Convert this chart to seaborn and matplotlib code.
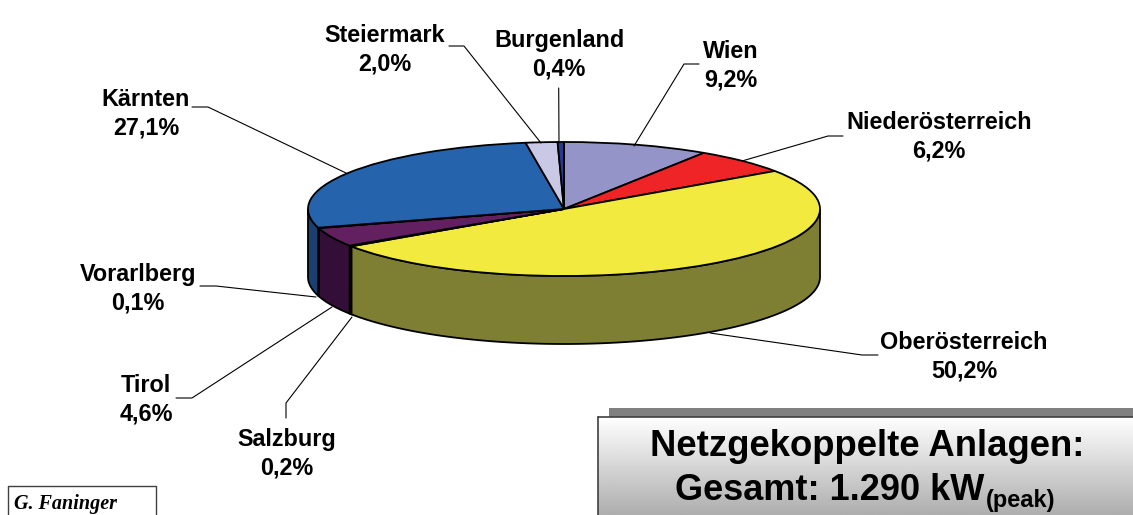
import numpy as np
import matplotlib.pyplot as plt
import seaborn as sns

laender = ['Wien', 'Niederösterreich', 'Oberösterreich', 'Salzburg', 'Tirol',
           'Vorarlberg', 'Kärnten', 'Steiermark', 'Burgenland']
anteile = [9.2, 6.2, 50.2, 0.2, 4.6, 0.1, 27.1, 2.0, 0.4]
farben_oben = ['#9494C8', '#EE2427', '#F2EA3E', '#5F8F8F', '#622060',
               '#3A2060', '#2563AD', '#C9C9E5', '#2A3990']
farben_wand = ['#4A4A64', '#771214', '#7F7F33', '#2F4848', '#330F38',
               '#1D1030', '#1B3F70', '#646472', '#151C48']

# label centre in pixels
label_x = [731, 939, 964, 287, 146, 138, 146, 385, 559]
label_y = [66, 137, 357, 454, 400, 289, 114, 50, 55]

# leader lines in pixels
leader = [
    [(699, 64), (684, 64), (634, 146)],
    [(843, 136), (828, 136), (742, 161)],
    [(878, 355), (862, 355), (710, 333)],
    [(286, 418), (286, 403), (352, 317)],
    [(176, 398), (192, 398), (332, 307)],
    [(200, 286), (216, 286), (316, 297)],
    [(192, 107), (208, 107), (346, 173)],
    [(449, 46), (464, 46), (541, 143)],
    [(558.7, 88), (559, 143)],
]

W, H = 1133, 515
cx, cy, rx, ry = 564, 209, 256, 67
tiefe = 68 / ry

sns.set_theme(style='white')
plt.rcParams['font.family'] = ['Liberation Sans', 'DejaVu Sans']
plt.rcParams['text.color'] = 'black'

fig = plt.figure(figsize=(W / 100, H / 100), dpi=100)
ax = fig.add_axes([0, 0, 1, 1])

# side wall, only the front half of the disc is visible
start = 0
for wert, farbe in zip(anteile, farben_wand):
    ende = start + wert * 3.6
    a, b = max(start, 90), min(ende, 270)
    if b > a:
        t = np.radians(np.linspace(a, b, 80))
        xs = np.sin(t)
        ys = np.cos(t)
        ax.fill(np.r_[xs, xs[::-1]], np.r_[ys, ys[::-1] - tiefe],
                facecolor=farbe, edgecolor='black', linewidth=1.3)
    start = ende

ax.pie(anteile, colors=sns.color_palette(farben_oben), startangle=90, counterclock=False,
       radius=1, center=(0, 0), wedgeprops=dict(edgecolor='black', linewidth=1.3))
ax.set_aspect('auto')
ax.set_xlim(-cx / rx, (W - cx) / rx)
ax.set_ylim(-(H - cy) / ry, cy / ry)
ax.axis('off')

over = fig.add_axes([0, 0, 1, 1])
over.set_xlim(0, W)
over.set_ylim(H, 0)
over.axis('off')

for name, wert, x, y, linie in zip(laender, anteile, label_x, label_y, leader):
    over.plot(*zip(*linie), color='black', lw=0.8)
    txt = name + '\n' + f'{wert:.1f}'.replace('.', ',') + '%'
    over.text(x, y, txt, ha='center', va='center', fontsize=16.8, fontweight='bold',
              linespacing=1.3)

# summary box
over.fill_between([609, W], 408, 417, color='#808080', lw=0)
grad = np.linspace(1, 0.68, 100).reshape(-1, 1)
over.imshow(grad, extent=(598, W, H, 417), cmap='gray', vmin=0, vmax=1, aspect='auto', zorder=2)
over.plot([598, 598], [H, 417], color='#404040', lw=1.2, zorder=3)
over.plot([598, W], [417, 417], color='#404040', lw=1.2, zorder=3)
over.set_xlim(0, W)
over.set_ylim(H, 0)
over.text(867, 446, 'Netzgekoppelte Anlagen:', ha='center', va='center', fontsize=26.3,
          fontweight='bold', zorder=4)
over.text(675, 490, 'Gesamt: 1.290 kW', ha='left', va='center', fontsize=26,
          fontweight='bold', zorder=4)
over.text(986, 501, '(peak)', ha='left', va='center', fontsize=17, fontweight='bold', zorder=4)

# author box
over.plot([8, 8, 156, 156], [H, 486, 486, H], color='#404040', lw=1)
over.text(14, 504, 'G. Faninger', ha='left', va='center', fontsize=14.5, fontstyle='italic',
          fontweight='bold', family='Liberation Serif')

fig.savefig('out.png', dpi=100)
